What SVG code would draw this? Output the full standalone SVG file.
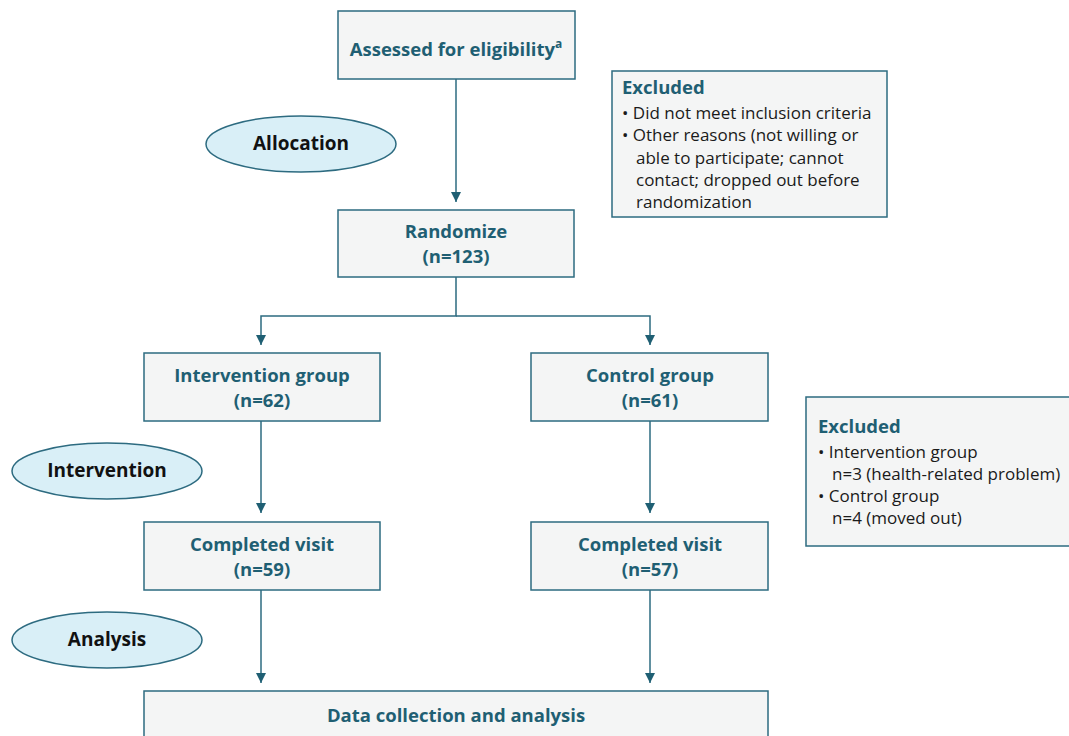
<svg xmlns="http://www.w3.org/2000/svg" width="1069" height="736" viewBox="0 0 1069 736">
<defs>
<style>
.box{fill:#f4f5f5;stroke:#2d6b80;stroke-width:1.5}
.ell{fill:#d9eff7;stroke:#2d6b80;stroke-width:1.5}
.t{font-family:"Open Sans","Liberation Sans",sans-serif;font-weight:bold;font-size:18.5px;fill:#1f5f73;text-anchor:middle}
.e{font-family:"Open Sans","Liberation Sans",sans-serif;font-weight:bold;font-size:19px;fill:#111;text-anchor:middle}
.h{font-family:"Open Sans","Liberation Sans",sans-serif;font-weight:bold;font-size:18.5px;fill:#1f5f73}
.b{font-family:"Open Sans","Liberation Sans",sans-serif;font-size:17px;fill:#1a1a1a}
.c{fill:none;stroke:#2d6b80;stroke-width:1.5}
</style>
<marker id="arr" viewBox="0 0 10 10" refX="10" refY="5" markerWidth="10" markerHeight="10" markerUnits="userSpaceOnUse" orient="auto">
<path d="M0,0 L10,5 L0,10 Z" fill="#1f5f73"/>
</marker>
</defs>
<rect width="1069" height="736" fill="#fff"/>
<g id="connectors">
<path class="c" d="M456,79 V202" marker-end="url(#arr)"/>
<path class="c" d="M456,277 V316 H261 V345" marker-end="url(#arr)"/>
<path class="c" d="M456,316 H650 V345" marker-end="url(#arr)"/>
<path class="c" d="M261,421 V513" marker-end="url(#arr)"/>
<path class="c" d="M650,421 V513" marker-end="url(#arr)"/>
<path class="c" d="M261,590 V683" marker-end="url(#arr)"/>
<path class="c" d="M650,590 V683" marker-end="url(#arr)"/>
</g>
<g id="assessed">
<rect class="box" x="338" y="11" width="237" height="68"/>
<text class="t" x="456" y="56">Assessed for eligibility<tspan font-size="12" dy="-8">a</tspan></text>
</g>
<g id="excluded1">
<rect class="box" x="612" y="71" width="275" height="146"/>
<text class="h" x="622" y="94">Excluded</text>
<text class="b" x="622" y="119">• Did not meet inclusion criteria</text>
<text class="b" x="622" y="141">• Other reasons (not willing or</text>
<text class="b" x="636" y="164">able to participate; cannot</text>
<text class="b" x="636" y="186">contact; dropped out before</text>
<text class="b" x="636" y="208">randomization</text>
</g>
<g id="allocation">
<ellipse class="ell" cx="301" cy="144" rx="95" ry="28"/>
<text class="e" x="301" y="150">Allocation</text>
</g>
<g id="randomize">
<rect class="box" x="338" y="210" width="236" height="67"/>
<text class="t" x="456" y="238">Randomize</text>
<text class="t" x="456" y="263">(n=123)</text>
</g>
<g id="intervention-group">
<rect class="box" x="144" y="353" width="236" height="68"/>
<text class="t" x="262" y="382">Intervention group</text>
<text class="t" x="262" y="407">(n=62)</text>
</g>
<g id="control-group">
<rect class="box" x="531" y="353" width="237" height="68"/>
<text class="t" x="650" y="382">Control group</text>
<text class="t" x="650" y="407">(n=61)</text>
</g>
<g id="intervention">
<ellipse class="ell" cx="107" cy="471" rx="95" ry="28"/>
<text class="e" x="107" y="477">Intervention</text>
</g>
<g id="excluded2">
<rect class="box" x="806" y="397" width="275" height="149"/>
<text class="h" x="818" y="433">Excluded</text>
<text class="b" x="818" y="458">• Intervention group</text>
<text class="b" x="832" y="480">n=3 (health-related problem)</text>
<text class="b" x="818" y="502">• Control group</text>
<text class="b" x="832" y="524">n=4 (moved out)</text>
</g>
<g id="completed-int">
<rect class="box" x="144" y="522" width="236" height="68"/>
<text class="t" x="262" y="551">Completed visit</text>
<text class="t" x="262" y="576">(n=59)</text>
</g>
<g id="completed-ctrl">
<rect class="box" x="531" y="522" width="237" height="68"/>
<text class="t" x="650" y="551">Completed visit</text>
<text class="t" x="650" y="576">(n=57)</text>
</g>
<g id="analysis">
<ellipse class="ell" cx="107" cy="640" rx="95" ry="28"/>
<text class="e" x="107" y="646">Analysis</text>
</g>
<g id="data-collection">
<rect class="box" x="144" y="691" width="624" height="60"/>
<text class="t" x="456" y="722">Data collection and analysis</text>
</g>
</svg>
